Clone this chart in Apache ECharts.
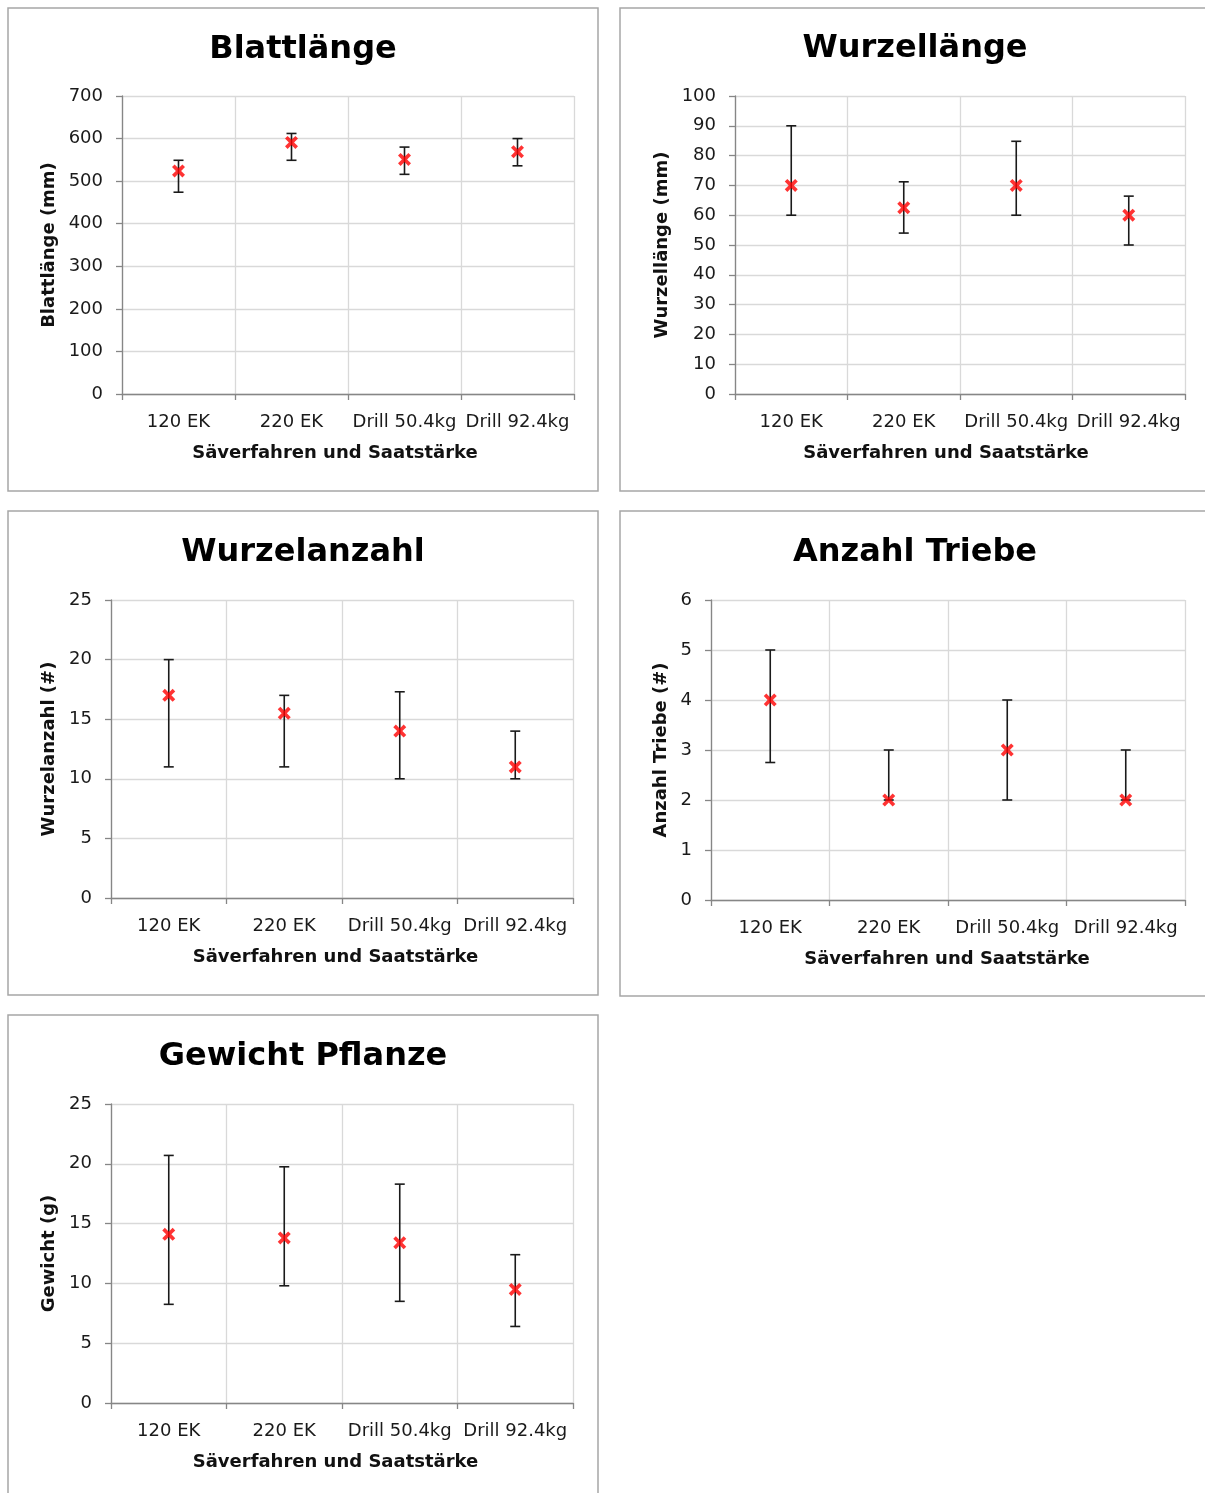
<!DOCTYPE html>
<html>
<head>
<meta charset="utf-8">
<script src="https://cdn.jsdelivr.net/npm/echarts@6/dist/echarts.min.js"></script>
<style>
html,body{margin:0;padding:0;background:#fff;}
#chart{width:1205px;height:1493px;}
</style>
</head>
<body>
<div id="chart"></div>
<script>
// ---------- data ----------
var categories = ['120 EK', '220 EK', 'Drill 50.4kg', 'Drill 92.4kg'];

var blattMean = [524, 591, 551, 569];
var blattLow  = [474, 549, 516, 536];
var blattHigh = [549, 612, 580, 600];

var wurzelLMean = [70, 62.5, 70, 60];
var wurzelLLow  = [60, 54, 60, 50];
var wurzelLHigh = [90, 71.2, 84.8, 66.4];

var wurzelAMean = [17, 15.5, 14, 11];
var wurzelALow  = [11, 11, 10, 10];
var wurzelAHigh = [20, 17, 17.3, 14];

var triebeMean = [4, 2, 3, 2];
var triebeLow  = [2.75, 2, 2, 2];
var triebeHigh = [5, 3, 4, 3];

var gewichtMean = [14.1, 13.8, 13.4, 9.5];
var gewichtLow  = [8.25, 9.8, 8.5, 6.4];
var gewichtHigh = [20.7, 19.75, 18.3, 12.4];

var titles = ['Blattlänge', 'Wurzellänge', 'Wurzelanzahl', 'Anzahl Triebe', 'Gewicht Pflanze'];
var yNames = ['Blattlänge (mm)', 'Wurzellänge (mm)', 'Wurzelanzahl (#)', 'Anzahl Triebe (#)', 'Gewicht (g)'];
var xName = 'Säverfahren und Saatstärke';
var yMax = [700, 100, 25, 6, 25];
var yInterval = [100, 10, 5, 1, 5];

// ---------- layout ----------
var FONT = 'DejaVu Sans';
var panels = [
  {box:[8,8,590,483],   grid:{left:122, top:96,  width:452, height:298}, titleY:50,   yGap:64, xPadR:26, mean:blattMean,  low:blattLow,  high:blattHigh},
  {box:[620,8,620,483], grid:{left:735, top:96,  width:450, height:298}, titleY:49,   yGap:64, xPadR:28, mean:wurzelLMean, low:wurzelLLow, high:wurzelLHigh},
  {box:[8,511,590,484], grid:{left:111, top:600, width:462, height:298}, titleY:553,  yGap:53, xPadR:13, mean:wurzelAMean, low:wurzelALow, high:wurzelAHigh},
  {box:[620,511,620,485],grid:{left:711, top:600, width:474, height:300}, titleY:553, yGap:41, xPadR:2,  mean:triebeMean,  low:triebeLow,  high:triebeHigh},
  {box:[8,1015,590,520],grid:{left:111, top:1104,width:462, height:299}, titleY:1057, yGap:53, xPadR:13, mean:gewichtMean, low:gewichtLow, high:gewichtHigh}
];

var xSymbol = 'path://M2,0 L5,3 L8,0 L10,2 L7,5 L10,8 L8,10 L5,7 L2,10 L0,8 L3,5 L0,2 Z';

var grids = [], xAxes = [], yAxes = [], series = [], graphics = [];

panels.forEach(function (p, i) {
  graphics.push({
    type: 'rect', z: -10, silent: true,
    shape: {x: p.box[0], y: p.box[1], width: p.box[2], height: p.box[3]},
    style: {fill: '#fff', stroke: '#a6a6a6', lineWidth: 1.5}
  });
  graphics.push({
    type: 'text', z: 10,
    x: p.box[0] + 295, y: p.titleY,
    style: {text: titles[i], font: 'bold 32px "' + FONT + '"', fill: '#000', align: 'center', verticalAlign: 'middle'}
  });
  grids.push({left: p.grid.left, top: p.grid.top, width: p.grid.width, height: p.grid.height, containLabel: false});
  xAxes.push({
    type: 'category', gridIndex: i, data: categories, boundaryGap: true,
    name: xName, nameLocation: 'middle', nameGap: 50,
    nameTextStyle: {fontFamily: FONT, fontWeight: 'bold', fontSize: 18, color: '#111', padding: [0, p.xPadR, 0, 0]},
    axisLine: {lineStyle: {color: '#868686', width: 1.3}},
    axisTick: {show: true, length: 6, lineStyle: {color: '#868686', width: 1.3}},
    axisLabel: {fontFamily: FONT, fontSize: 18, color: '#1a1a1a', margin: 19, interval: 0},
    splitLine: {show: true, lineStyle: {color: '#d9d9d9', width: 1.3}}
  });
  yAxes.push({
    type: 'value', gridIndex: i, min: 0, max: yMax[i], interval: yInterval[i],
    name: yNames[i], nameLocation: 'middle', nameGap: p.yGap, nameRotate: 90,
    nameTextStyle: {fontFamily: FONT, fontWeight: 'bold', fontSize: 18, color: '#111'},
    axisLine: {show: true, lineStyle: {color: '#868686', width: 1.3}},
    axisTick: {show: true, length: 6, lineStyle: {color: '#868686', width: 1.3}},
    axisLabel: {fontFamily: FONT, fontSize: 18, color: '#1a1a1a', margin: 19},
    splitLine: {show: true, lineStyle: {color: '#d9d9d9', width: 1.3}}
  });
  var errData = categories.map(function (c, k) { return [k, p.low[k], p.high[k]]; });
  series.push({
    type: 'custom', xAxisIndex: i, yAxisIndex: i, z: 2,
    data: errData,
    renderItem: function (params, api) {
      var lo = api.coord([api.value(0), api.value(1)]);
      var hi = api.coord([api.value(0), api.value(2)]);
      var hw = 5;
      var st = {stroke: '#1a1a1a', lineWidth: 1.6};
      return {type: 'group', children: [
        {type: 'line', shape: {x1: hi[0], y1: hi[1], x2: lo[0], y2: lo[1]}, style: st},
        {type: 'line', shape: {x1: hi[0] - hw, y1: hi[1], x2: hi[0] + hw, y2: hi[1]}, style: st},
        {type: 'line', shape: {x1: lo[0] - hw, y1: lo[1], x2: lo[0] + hw, y2: lo[1]}, style: st}
      ]};
    }
  });
  series.push({
    type: 'scatter', xAxisIndex: i, yAxisIndex: i, z: 5,
    symbol: xSymbol, symbolSize: 13,
    itemStyle: {color: '#ff0000'},
    data: p.mean.map(function (v, k) { return [k, v]; })
  });
});

var chart = echarts.init(document.getElementById('chart'), null, {renderer: 'canvas'});
chart.setOption({
  backgroundColor: '#fff',
  animation: false,
  graphic: graphics,
  grid: grids,
  xAxis: xAxes,
  yAxis: yAxes,
  series: series
});
</script>
</body>
</html>
